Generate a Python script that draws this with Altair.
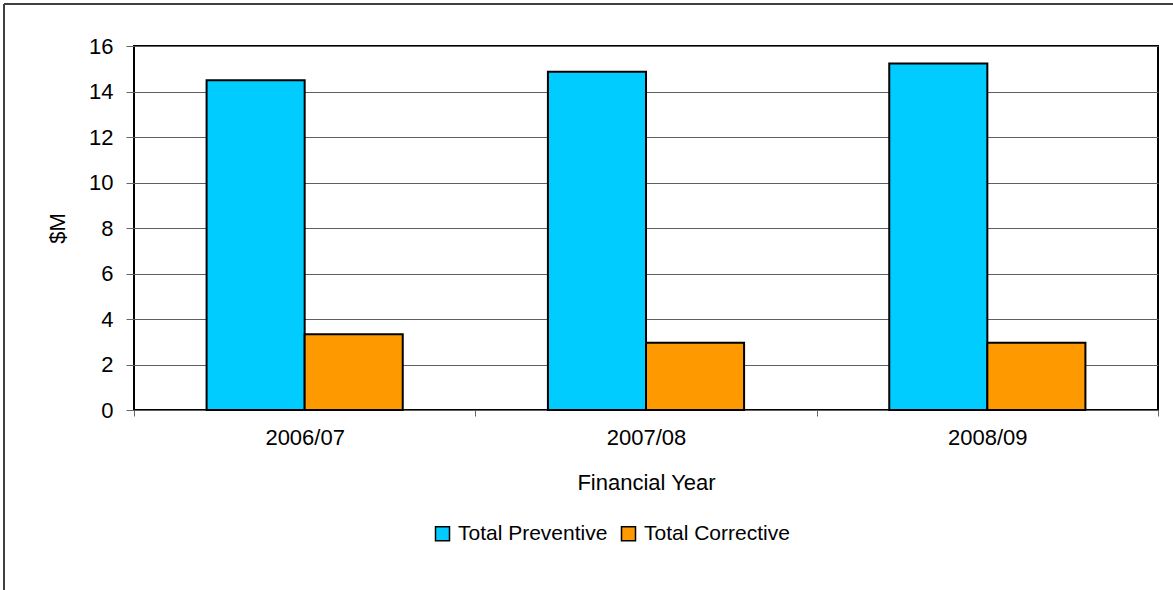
import altair as alt
import pandas as pd

# Maintenance spend by financial year ($M)
years = ["2006/07", "2007/08", "2008/09"]
preventive = [14.5, 14.87, 15.23]
corrective = [3.33, 2.96, 2.96]
series = ["Total Preventive", "Total Corrective"]
colors = ["#00CCFF", "#FF9900"]
y_ticks = [0, 2, 4, 6, 8, 10, 12, 14, 16]

rows = []
for i, yr in enumerate(years):
    rows.append({"year": yr, "series": series[0], "value": preventive[i]})
    rows.append({"year": yr, "series": series[1], "value": corrective[i]})
df = pd.DataFrame(rows)

FONT = "Liberation Sans"
FS = 22

bars = alt.Chart(df).mark_bar(stroke="black", strokeWidth=2).encode(
    x=alt.X(
        "year:N",
        sort=years,
        scale=alt.Scale(paddingInner=0, paddingOuter=0),
        axis=alt.Axis(
            title="Financial Year",
            labelAngle=0,
            tickBand="extent",
            tickSize=6,
            tickColor="#666666",
            tickWidth=1,
            domain=False,
            grid=False,
            labelPadding=11,
            titlePadding=24,
        ),
    ),
    xOffset=alt.XOffset(
        "series:N",
        sort=series,
        scale=alt.Scale(paddingInner=0, paddingOuter=0.74),
    ),
    y=alt.Y(
        "value:Q",
        scale=alt.Scale(domain=[0, 16], nice=False),
        axis=alt.Axis(
            title="$M",
            values=y_ticks,
            tickSize=8,
            tickColor="#666666",
            tickWidth=1,
            domain=False,
            grid=True,
            gridColor="#606060",
            gridWidth=1,
            labelPadding=13,
            titlePadding=19,
        ),
    ),
    color=alt.Color(
        "series:N",
        sort=series,
        scale=alt.Scale(domain=series, range=colors),
        legend=alt.Legend(
            title=None,
            orient="none",
            direction="horizontal",
            legendX=298,
            legendY=477,
            symbolType="square",
            symbolSize=196,
            symbolStrokeColor="black",
            symbolStrokeWidth=1.5,
            labelOffset=5,
            columnPadding=10,
            padding=0,
        ),
    ),
)

# outer frame of the chart box (top and left edges)
frame_src = pd.DataFrame({"k": [0]})
frame_top = alt.Chart(frame_src).mark_rule(color="#404040", strokeWidth=2).encode(
    x=alt.value(-130), x2=alt.value(1100), y=alt.value(-42)
)
frame_left = alt.Chart(frame_src).mark_rule(color="#404040", strokeWidth=2).encode(
    x=alt.value(-130), y=alt.value(-42), y2=alt.value(600)
)

chart = (
    alt.layer(bars, frame_top, frame_left)
    .properties(
        width=1024,
        height=364,
        autosize=alt.AutoSizeParams(type="none"),
        padding={"left": 134, "top": 46, "right": 15, "bottom": 180},
        background="white",
    )
    .configure_view(stroke="black", strokeWidth=2)
    .configure_axis(
        labelFont=FONT,
        labelFontSize=FS,
        labelColor="black",
        titleFont=FONT,
        titleFontSize=FS,
        titleFontWeight="normal",
        titleColor="black",
    )
    .configure_legend(
        labelFont=FONT,
        labelFontSize=21,
        labelColor="black",
    )
)

chart.save("out.html", embed_options={"renderer": "svg", "actions": False})
